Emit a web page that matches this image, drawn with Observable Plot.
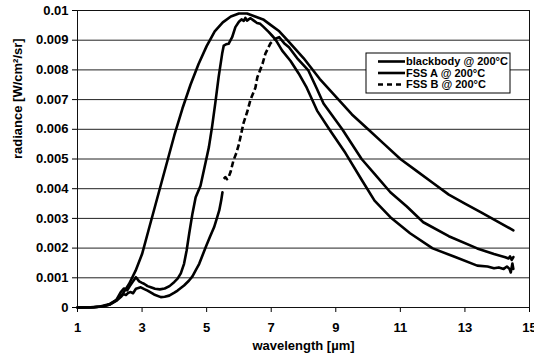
<!DOCTYPE html>
<html>
<head>
<meta charset="utf-8">
<script src="https://cdn.jsdelivr.net/npm/d3@7"></script>
<script src="https://cdn.jsdelivr.net/npm/@observablehq/plot@0.6"></script>
<style>
  html, body { margin: 0; padding: 0; background: #fff; }
  #chart { position: relative; width: 534px; height: 358px; overflow: hidden; }
</style>
</head>
<body>
<div id="chart"></div>
<script>
// ---- tick labels ----
const wavelengthTicks = [1, 3, 5, 7, 9, 11, 13, 15];
const radianceTicks = [0, 0.001, 0.002, 0.003, 0.004, 0.005, 0.006, 0.007, 0.008, 0.009, 0.01];

// ---- series names ----
const seriesNames = ["blackbody @ 200°C", "FSS A @ 200°C", "FSS B @ 200°C"];

// ---- blackbody @ 200°C ----
const bbWave = [1.0, 1.4, 1.7, 2.0, 2.2, 2.4, 2.6, 2.8, 3.0, 3.2, 3.4, 3.6, 3.8, 4.0, 4.25, 4.5, 4.75, 5.0, 5.25, 5.5, 5.75, 6.0, 6.25, 6.5, 6.75, 7.0, 7.25, 7.5, 7.75, 8.0, 8.5, 9.0, 9.5, 10.0, 10.5, 11.0, 11.5, 12.0, 12.5, 13.0, 13.5, 14.0, 14.5];
const bbRad = [0, 0.000005, 0.00003, 0.00012, 0.00025, 0.00046, 0.0008, 0.00124, 0.0018, 0.0026, 0.0034, 0.0042, 0.005, 0.0058, 0.0067, 0.0075, 0.0082, 0.0088, 0.0093, 0.0096, 0.0098, 0.0099, 0.0099, 0.0098, 0.0097, 0.0095, 0.0093, 0.009, 0.0087, 0.0084, 0.0077, 0.0071, 0.0065, 0.006, 0.0055, 0.005, 0.0046, 0.0042, 0.0038, 0.0035, 0.0032, 0.0029, 0.0026];

// ---- FSS A @ 200°C ----
const fssAWave = [1.0, 1.5, 1.8, 2.0, 2.2, 2.34, 2.44, 2.54, 2.62, 2.7, 2.81, 2.91, 3.0, 3.06, 3.17, 3.27, 3.4, 3.55, 3.7, 3.85, 4.0, 4.1, 4.2, 4.3, 4.38, 4.46, 4.56, 4.66, 4.81, 4.97, 5.07, 5.17, 5.27, 5.37, 5.48, 5.53, 5.6, 5.68, 5.79, 5.89, 6.0, 6.08, 6.15, 6.2, 6.25, 6.3, 6.36, 6.46, 6.56, 6.66, 6.77, 6.92, 7.03, 7.13, 7.34, 7.6, 7.85, 8.1, 8.42, 8.83, 9.3, 9.8, 10.2, 10.69, 11.3, 12.0, 12.7, 13.38, 13.7, 13.9, 14.05, 14.2, 14.3, 14.38, 14.42, 14.47, 14.5];
const fssARad = [0, 0.00001, 0.00004, 0.0001, 0.00025, 0.00052, 0.00064, 0.00058, 0.00072, 0.00085, 0.00102, 0.00088, 0.00083, 0.0008, 0.00072, 0.00068, 0.00063, 0.00061, 0.00064, 0.00072, 0.00086, 0.00097, 0.00115, 0.00147, 0.00192, 0.00249, 0.00316, 0.00371, 0.0041, 0.0049, 0.0054, 0.0061, 0.0069, 0.00775, 0.00854, 0.00882, 0.00886, 0.00888, 0.0091, 0.00944, 0.00962, 0.0097, 0.00965, 0.00975, 0.00966, 0.0097, 0.00974, 0.00966, 0.00958, 0.00955, 0.00944, 0.00928, 0.00915, 0.00903, 0.00865, 0.0083, 0.00788, 0.0074, 0.00663, 0.00595, 0.0052, 0.0043, 0.0036, 0.00304, 0.0025, 0.00199, 0.0017, 0.00141, 0.00138, 0.00132, 0.00135, 0.0013, 0.00138, 0.0013, 0.00118, 0.00148, 0.0013];

// ---- FSS B @ 200°C ----
const fssBWave = [1.0, 1.5, 1.8, 2.0, 2.2, 2.34, 2.42, 2.5, 2.58, 2.65, 2.72, 2.81, 2.96, 3.07, 3.17, 3.37, 3.58, 3.7, 3.84, 4.0, 4.1, 4.3, 4.45, 4.56, 4.66, 4.77, 4.87, 4.97, 5.1, 5.23, 5.33, 5.39, 5.45, 5.49, 5.53, 5.58, 5.63, 5.68, 5.74, 5.83, 5.92, 6.0, 6.14, 6.26, 6.36, 6.51, 6.57, 6.73, 6.82, 6.98, 7.13, 7.25, 7.4, 7.55, 7.8, 8.15, 8.4, 8.62, 9.2, 9.8, 10.2, 10.69, 11.2, 11.71, 12.5, 13.38, 13.9, 14.25, 14.35, 14.4, 14.45, 14.5];
const fssBRad = [0, 0.00001, 0.00004, 0.0001, 0.00022, 0.00035, 0.00045, 0.00042, 0.0005, 0.00052, 0.00048, 0.00063, 0.00068, 0.00062, 0.00057, 0.00044, 0.00035, 0.00036, 0.0004, 0.0005, 0.00057, 0.00074, 0.0009, 0.00105, 0.00125, 0.00147, 0.00175, 0.00203, 0.00237, 0.0027, 0.00305, 0.00327, 0.0036, 0.00388, 0.00433, 0.00439, 0.00432, 0.00439, 0.00456, 0.00495, 0.0052, 0.0055, 0.0062, 0.0066, 0.007, 0.0074, 0.00775, 0.0082, 0.00855, 0.0089, 0.00905, 0.0091, 0.0089, 0.00876, 0.0084, 0.00798, 0.0074, 0.00687, 0.006, 0.005, 0.0045, 0.00388, 0.0034, 0.00287, 0.0024, 0.00199, 0.0018, 0.00169, 0.00165, 0.00172, 0.0016, 0.0017];

// ---- build tables ----
const rows = (xs, ys) => xs.map((x, i) => ({x, y: ys[i]}));
const bb = rows(bbWave, bbRad);
const fssA = rows(fssAWave, fssARad);
const fssB = rows(fssBWave, fssBRad);
// FSS B: dashed pattern shows on its steep rising stretch
const fssBSolidLow = fssB.filter(d => d.x <= 5.49);
const fssBDashed = fssB.filter(d => d.x >= 5.53 && d.x <= 7.25);
const fssBSolidHigh = fssB.filter(d => d.x >= 7.25);

const FONT = "'Liberation Sans', Arial, Helvetica, sans-serif";
const lineStyle = {x: "x", y: "y", stroke: "#000", strokeWidth: 2.6, strokeLinejoin: "round", strokeLinecap: "round"};

const chart = Plot.plot({
  width: 534,
  height: 358,
  marginLeft: 77,
  marginRight: 5,
  marginTop: 10,
  marginBottom: 51,
  style: {fontFamily: FONT, fontSize: "13px", fontWeight: "bold", color: "#000", background: "#fff"},
  x: {domain: [1, 15], ticks: wavelengthTicks, tickSize: 5, tickPadding: 10, tickFormat: d => String(d), label: null},
  y: {domain: [0, 0.01], ticks: radianceTicks, tickSize: 5, tickPadding: 4,
      tickFormat: d => d === 0 ? "0" : String(+d.toFixed(3)), label: null},
  marks: [
    Plot.ruleY(radianceTicks, {stroke: "#222", strokeWidth: 1}),
    Plot.frame({stroke: "#111", strokeWidth: 1}),
    Plot.line(bb, lineStyle),
    Plot.line(fssA, lineStyle),
    Plot.line(fssBSolidLow, lineStyle),
    Plot.line(fssBDashed, {...lineStyle, strokeDasharray: "6,3", strokeLinecap: "butt"}),
    Plot.line(fssBSolidHigh, lineStyle),
    Plot.text(["radiance [W/cm²/sr]"], {frameAnchor: "left", dx: -60, rotate: -90, fontSize: 13, fontWeight: "bold", fill: "#000"}),
    Plot.text(["wavelength [µm]"], {frameAnchor: "bottom", dy: 42, fontSize: 13, fontWeight: "bold", fill: "#000"})
  ]
});

document.getElementById("chart").appendChild(chart);

// ---- legend (inside the plot area, top right) ----
const svg = d3.select(chart);
const lg = svg.append("g").attr("transform", "translate(366,53)");
lg.append("rect").attr("width", 144).attr("height", 40).attr("fill", "#fff").attr("stroke", "#000").attr("stroke-width", 1);
const dashes = [null, null, "5,4"];
seriesNames.forEach((name, i) => {
  const cy = 8.5 + i * 11.5;
  lg.append("line").attr("x1", 12).attr("x2", 39).attr("y1", cy).attr("y2", cy)
    .attr("stroke", "#000").attr("stroke-width", 2.6)
    .attr("stroke-dasharray", dashes[i]);
  lg.append("text").attr("x", 40).attr("y", cy).attr("dy", "0.35em")
    .attr("text-anchor", "start")
    .attr("font-family", FONT).attr("font-size", 11).attr("font-weight", "bold")
    .attr("fill", "#000").text(name);
});
</script>
</body>
</html>
